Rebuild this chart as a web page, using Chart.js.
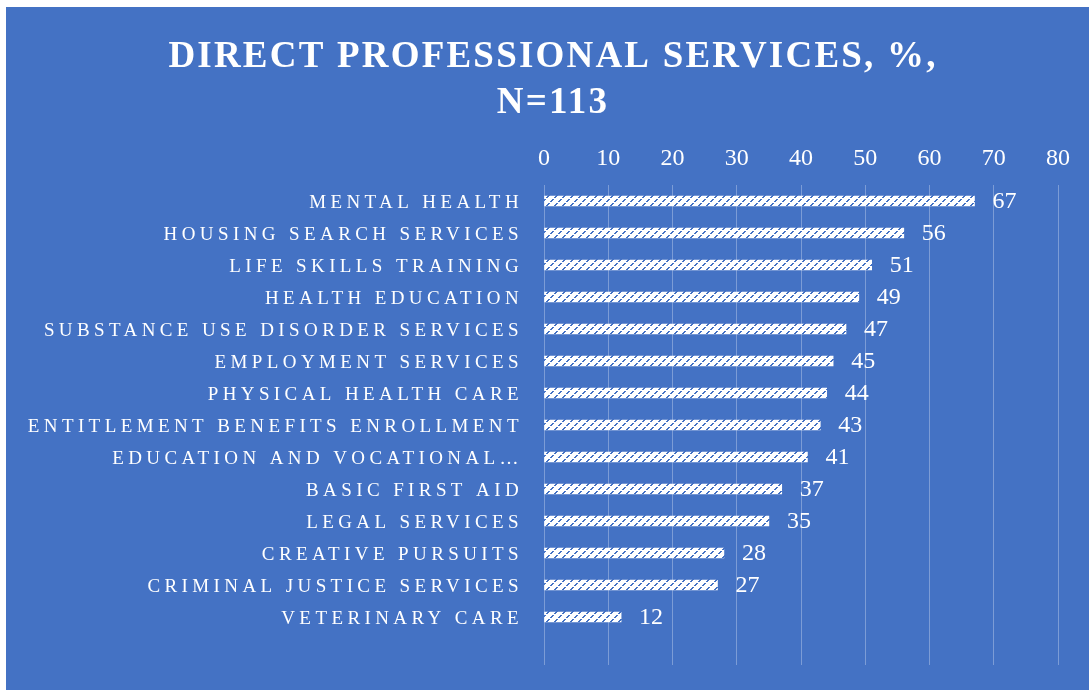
<!DOCTYPE html>
<html>
<head>
<meta charset="utf-8">
<title>Direct professional services</title>
<script src="https://cdn.jsdelivr.net/npm/chart.js@4.4.1/dist/chart.umd.min.js"></script>
<style>
  html, body { margin: 0; padding: 0; background: #fff; }
  #chart-box { position: absolute; left: 6px; top: 7px; width: 1083px; height: 683px; background: #4472C4; }
</style>
</head>
<body>
<div id="chart-box"><canvas id="myChart"></canvas></div>
<script>
var services = [
    'MENTAL HEALTH',
    'HOUSING SEARCH SERVICES',
    'LIFE SKILLS TRAINING',
    'HEALTH EDUCATION',
    'SUBSTANCE USE DISORDER SERVICES',
    'EMPLOYMENT SERVICES',
    'PHYSICAL HEALTH CARE',
    'ENTITLEMENT BENEFITS ENROLLMENT',
    'EDUCATION AND VOCATIONAL\u2026',
    'BASIC FIRST AID',
    'LEGAL SERVICES',
    'CREATIVE PURSUITS',
    'CRIMINAL JUSTICE SERVICES',
    'VETERINARY CARE'
];
var percents = [67, 56, 51, 49, 47, 45, 44, 43, 41, 37, 35, 28, 27, 12];
var xTicks = [0, 10, 20, 30, 40, 50, 60, 70, 80];
var titleLines = ['DIRECT PROFESSIONAL SERVICES, %,', 'N=113'];

var BLUE = '#4472C4';
var FONT = '"Liberation Serif", "DejaVu Serif", serif';

// small white tile with blue diagonal dashes for the bars
function stripePattern() {
    var c = document.createElement('canvas');
    c.width = 8;
    c.height = 8;
    var p = c.getContext('2d');
    p.fillStyle = '#fff';
    p.fillRect(0, 0, 8, 8);
    p.fillStyle = BLUE;
    [[2, 0], [3, 0], [1, 1], [2, 1], [0, 2], [1, 2],
     [6, 4], [7, 4], [5, 5], [6, 5], [4, 6], [5, 6]].forEach(function(px) {
        p.fillRect(px[0], px[1], 1, 1);
    });
    return p.createPattern(c, 'repeat');
}

// canvas letterSpacing (and a small vertical nudge) around a draw method
function spaced(fn, spacing, dy) {
    return function() {
        var ctx = this.ctx;
        ctx.save();
        ctx.letterSpacing = spacing;
        ctx.translate(0, dy || 0);
        fn.apply(this, arguments);
        ctx.restore();
    };
}

var letterSpacing = {
    id: 'letterSpacing',
    beforeDraw: function(chart) {
        var y = chart.scales.y;
        if (!y._spaced) {
            y.drawLabels = spaced(y.drawLabels, '4.4px', 2);
            y._spaced = true;
        }
        var t = chart.titleBlock;
        if (t && !t._spaced) {
            t.draw = spaced(t.draw, '2.2px', 0);
            t._spaced = true;
        }
    }
};

var barValues = {
    id: 'barValues',
    afterDatasetsDraw: function(chart) {
        var ctx = chart.ctx;
        var meta = chart.getDatasetMeta(0);
        ctx.save();
        ctx.font = '24px ' + FONT;
        ctx.fillStyle = '#fff';
        ctx.textAlign = 'left';
        ctx.textBaseline = 'middle';
        meta.data.forEach(function(bar, i) {
            var v = percents[i];
            if (v == null) return;
            ctx.fillText(String(v), bar.x + 18, bar.y + 1);
        });
        ctx.restore();
    }
};

var context = document.getElementById('myChart').getContext('2d');
var myBarChart = new Chart(context, {
    type: 'bar',
    data: {
        // trailing blank row leaves the empty band under the last bar
        labels: services.concat(['']),
        datasets: [{
            data: percents.concat([null]),
            backgroundColor: stripePattern(),
            borderWidth: 0,
            barThickness: 10
        }]
    },
    plugins: [letterSpacing, barValues],
    options: {
        indexAxis: 'y',
        responsive: true,
        maintainAspectRatio: false,
        animation: false,
        layout: {
            padding: { top: 0, left: 11, right: 0, bottom: 25 }
        },
        plugins: {
            legend: { display: false },
            tooltip: { enabled: false },
            title: {
                display: true,
                text: titleLines,
                color: '#fff',
                font: { family: FONT, size: 37, weight: 'bold', lineHeight: 1.23 },
                padding: { top: 28, bottom: 0 }
            }
        },
        scales: {
            x: {
                position: 'top',
                min: 0,
                max: 80,
                afterBuildTicks: function(axis) {
                    axis.ticks = xTicks.map(function(v) { return { value: v }; });
                },
                afterFit: function(axis) {
                    axis.height = 59;
                    axis.paddingRight = 31;
                },
                grid: { color: 'rgba(255,255,255,0.3)', lineWidth: 1, drawTicks: false },
                border: { display: false },
                ticks: { color: '#fff', font: { family: FONT, size: 24 }, padding: 12 }
            },
            y: {
                afterFit: function(axis) {
                    axis.width = 527;
                    axis.paddingTop = 0;
                    axis.paddingBottom = 0;
                },
                grid: { display: false },
                border: { display: false },
                ticks: { color: '#fff', font: { family: FONT, size: 19 }, padding: 13, autoSkip: false }
            }
        }
    }
});
</script>
</body>
</html>
